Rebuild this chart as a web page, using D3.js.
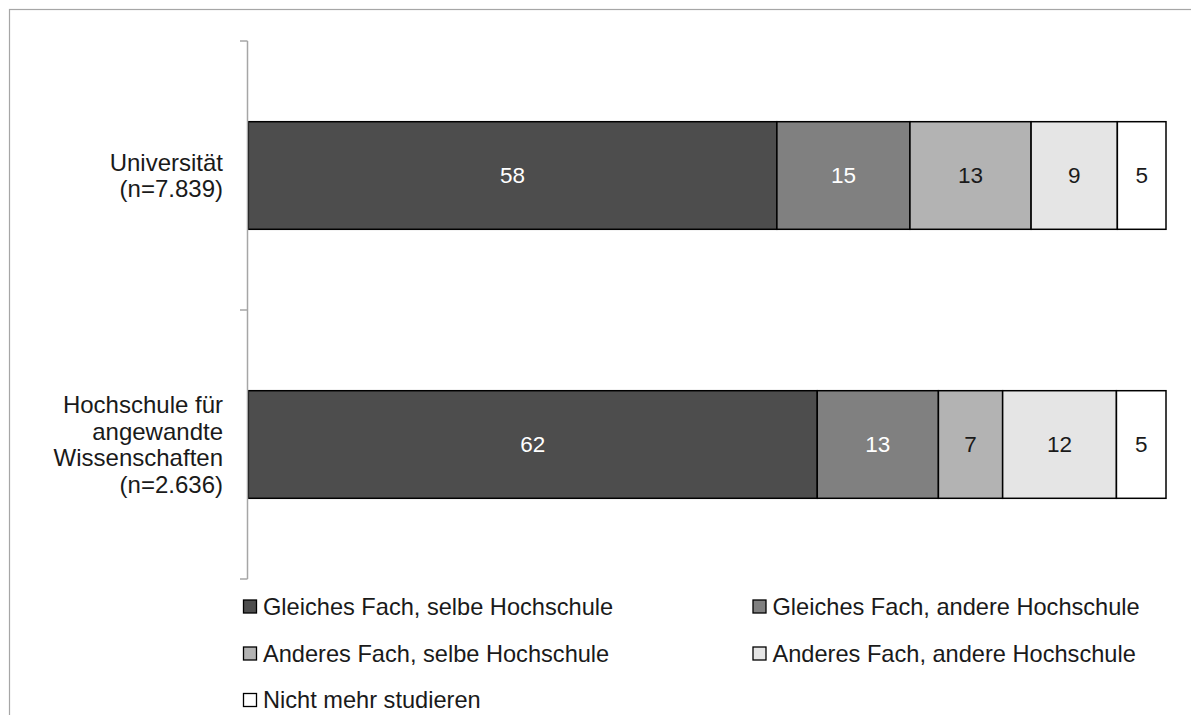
<!DOCTYPE html>
<html>
<head>
<meta charset="utf-8">
<script src="https://cdn.jsdelivr.net/npm/d3@7"></script>
<style>
  html, body { margin: 0; padding: 0; background: #fff; }
  svg { display: block; font-family: "Liberation Sans", Arial, sans-serif; }
</style>
</head>
<body>
<svg id="chart" width="1191" height="715"></svg>
<script>
// ---- data ----
const categories = ["Universität", "Hochschule für angewandte Wissenschaften"];
const categoryLabelLines = [
  ["Universität", "(n=7.839)"],
  ["Hochschule für", "angewandte", "Wissenschaften", "(n=2.636)"]
];
const seriesNames = [
  "Gleiches Fach, selbe Hochschule",
  "Gleiches Fach, andere Hochschule",
  "Anderes Fach, selbe Hochschule",
  "Anderes Fach, andere Hochschule",
  "Nicht mehr studieren"
];
const gleichesFachSelbe   = [57.6, 62.0];
const gleichesFachAndere  = [14.5, 13.2];
const anderesFachSelbe    = [13.2, 7.0];
const anderesFachAndere   = [9.4, 12.4];
const nichtMehrStudieren  = [5.3, 5.4];
const seriesValues = [gleichesFachSelbe, gleichesFachAndere, anderesFachSelbe, anderesFachAndere, nichtMehrStudieren];
const seriesColors = ["#4d4d4d", "#808080", "#b3b3b3", "#e5e5e5", "#ffffff"];
const labelColors  = ["#ffffff", "#ffffff", "#1a1a1a", "#1a1a1a", "#1a1a1a"];

// ---- build table ----
const table = categories.map((c, i) => {
  const row = { category: c };
  seriesNames.forEach((s, j) => row[s] = seriesValues[j][i]);
  return row;
});
const stacked = d3.stack().keys(seriesNames)(table);

const svg = d3.select("#chart");
const fontSize = 24;
const valueFontSize = 22.5;
const legendFontSize = 23.6;

// frame
svg.append("rect")
  .attr("x", 9.5).attr("y", 9.5).attr("width", 1300).attr("height", 900)
  .attr("fill", "none").attr("stroke", "#a6a6a6").attr("stroke-width", 1.2);

const x = d3.scaleLinear().domain([0, 100]).range([248.3, 1166]);
const y = d3.scaleBand().domain(categories).range([41, 579]).paddingInner(0.6).paddingOuter(0.3);

// bars
const groups = svg.append("g").selectAll("g").data(stacked).join("g")
  .attr("fill", (d, i) => seriesColors[i]);
groups.selectAll("rect").data(d => d).join("rect")
  .attr("x", d => x(d[0]))
  .attr("y", d => y(d.data.category))
  .attr("width", d => x(d[1]) - x(d[0]))
  .attr("height", y.bandwidth())
  .attr("stroke", "#000").attr("stroke-width", 1.5);

// value labels
stacked.forEach((s, i) => {
  svg.append("g").selectAll("text").data(s).join("text")
    .attr("x", d => (x(d[0]) + x(d[1])) / 2)
    .attr("y", d => y(d.data.category) + y.bandwidth() / 2)
    .attr("text-anchor", "middle")
    .attr("dominant-baseline", "central")
    .attr("font-size", valueFontSize)
    .attr("fill", labelColors[i])
    .text(d => Math.round(d.data[s.key]));
});

// y axis (category axis with ticks at band boundaries)
const axisG = svg.append("g").attr("stroke", "#a6a6a6").attr("stroke-width", 1.5).attr("fill", "none");
axisG.append("line").attr("x1", 247.5).attr("x2", 247.5).attr("y1", y.range()[0]).attr("y2", y.range()[1]);
const step = y.step();
const boundaries = [y.range()[0]].concat(categories.map((c, i) => y.range()[0] + step * (i + 1)));
axisG.selectAll("line.tick").data(boundaries).join("line").attr("class", "tick")
  .attr("x1", 240).attr("x2", 247.5).attr("y1", d => d).attr("y2", d => d);

// category labels
const lineH = 26.8;
categories.forEach((c, i) => {
  const lines = categoryLabelLines[i];
  const cy = y(c) + y.bandwidth() / 2;
  const t = svg.append("text")
    .attr("text-anchor", "end")
    .attr("font-size", fontSize)
    .attr("fill", "#1a1a1a");
  lines.forEach((ln, k) => {
    t.append("tspan")
      .attr("x", 223)
      .attr("y", cy + (k - (lines.length - 1) / 2) * lineH)
      .attr("dominant-baseline", "central")
      .text(ln);
  });
});

// legend
const legendCols = [243.5, 753];
const legendRows = [606.5, 653.5, 700];
const legend = svg.append("g").selectAll("g").data(seriesNames).join("g")
  .attr("transform", (d, i) => `translate(${legendCols[i % 2]},${legendRows[Math.floor(i / 2)]})`);
legend.append("rect")
  .attr("x", 0).attr("y", -6.5).attr("width", 13).attr("height", 13)
  .attr("fill", (d, i) => seriesColors[i])
  .attr("stroke", "#000").attr("stroke-width", 1.3);
legend.append("text")
  .attr("x", 19.5).attr("y", 0)
  .attr("dominant-baseline", "central")
  .attr("font-size", legendFontSize)
  .attr("fill", "#1a1a1a")
  .text(d => d);
</script>
</body>
</html>
